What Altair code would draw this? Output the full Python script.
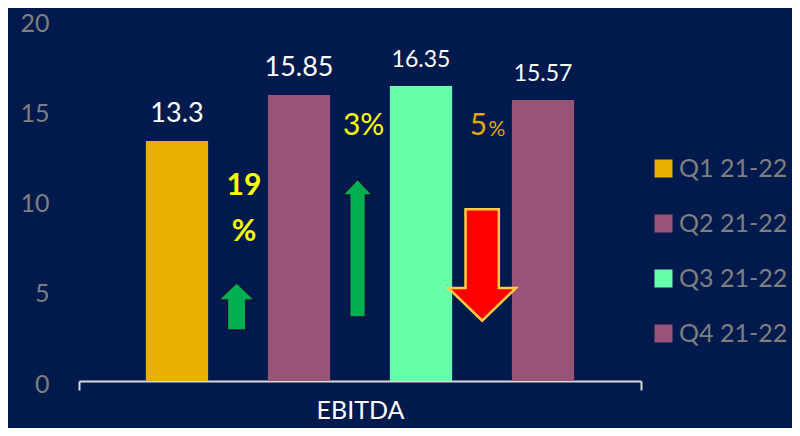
import altair as alt
import pandas as pd

# ---- data ----
metric = ["EBITDA", "EBITDA", "EBITDA", "EBITDA"]
quarters = ["Q1 21-22", "Q2 21-22", "Q3 21-22", "Q4 21-22"]
values = [13.3, 15.85, 16.35, 15.57]

# annotation arrows (x in bar-slot units, y = arrow centre in chart units)
arrow_ids = ["up_small", "up_tall", "down"]
arrow_pos = [0.49, 1.48, 2.50]
arrow_level = [4.13, 7.36, 6.43]

# change annotations
pct_ids = ["p19", "p19pct", "p3", "p5", "p5pct"]
pct_text = ["19", "%", "3%", "5", "%"]
pct_pos = [0.55, 0.55, 1.53, 2.47, 2.62]
pct_level = [10.30, 7.76, 13.63, 13.63, 13.57]

BG = "#001a4d"
bar_colors = ["#e8b000", "#985476", "#66ffaa", "#985476"]
FONT = "Lato"

df = pd.DataFrame({"metric": metric, "quarter": quarters, "value": values})
df_arrows = pd.DataFrame({"id": arrow_ids, "pos": arrow_pos, "level": arrow_level})
df_pct = pd.DataFrame({"id": pct_ids, "text": pct_text, "pos": pct_pos, "level": pct_level})

y_scale = alt.Scale(domain=[0, 20], nice=False)
x_axis = alt.Axis(labelAngle=0, labelFontSize=25, labelColor="#ffffff",
                  labelFont=FONT, labelPadding=8,
                  domainColor="#d9d9d9", domainWidth=2,
                  tickColor="#d9d9d9", tickWidth=2, tickSize=9,
                  tickBand="extent", grid=False)
y_axis = alt.Axis(values=[0, 5, 10, 15, 20], labelFontSize=25,
                  labelColor="#7f7f7f", labelFont=FONT, domain=False,
                  ticks=False, grid=False, labelPadding=30, labelOffset=3)
x_scale = alt.Scale(paddingInner=0, paddingOuter=0)
xo_scale = alt.Scale(paddingInner=0.49, paddingOuter=0.548)


def xe():
    return alt.X("metric:N", title=None, scale=x_scale, axis=x_axis)


def xoe():
    return alt.XOffset("quarter:N", sort=quarters, scale=xo_scale)


def ye(field):
    return alt.Y(field, scale=y_scale, title=None, axis=y_axis)


base = alt.Chart(df)
bars = base.mark_bar(strokeWidth=0).encode(
    x=xe(), xOffset=xoe(), y=ye("value:Q"),
    color=alt.Color("quarter:N", sort=quarters,
                    scale=alt.Scale(domain=quarters, range=bar_colors),
                    legend=alt.Legend(title=None, orient="none", legendX=572, legendY=136,
                                      symbolType="square", symbolSize=324,
                                      symbolStrokeWidth=0, labelFontSize=25,
                                      labelFont=FONT, labelColor="#7f7f7f",
                                      labelOffset=3, rowPadding=29, padding=0)),
)
lab_big = base.mark_text(font=FONT, fontSize=27, color="#ffffff", baseline="alphabetic", dy=-19).encode(
    x=xe(), xOffset=xoe(), y=ye("value:Q"), text=alt.Text("value:Q")
).transform_filter(alt.FieldOneOfPredicate(field="quarter", oneOf=quarters[:2]))
lab_small = base.mark_text(font=FONT, fontSize=23, color="#ffffff", baseline="alphabetic", dy=-19).encode(
    x=xe(), xOffset=xoe(), y=ye("value:Q"), text=alt.Text("value:Q")
).transform_filter(alt.FieldOneOfPredicate(field="quarter", oneOf=quarters[2:]))

main = alt.layer(bars, lab_big, lab_small)

hidden_axis = alt.Axis(labels=False, ticks=False, domain=False, grid=False, title=None)
ax = alt.X("pos:Q", scale=alt.Scale(domain=[-0.8, 3.8], nice=False, zero=False), axis=hidden_axis)
ay = ye("level:Q")


def arrow(aid, path, size, fill, stroke, sw):
    return alt.Chart(df_arrows).mark_point(
        shape=path, size=size, filled=True, fill=fill, opacity=1,
        stroke=stroke, strokeWidth=sw, strokeOpacity=1
    ).encode(x=ax, y=ay).transform_filter(alt.datum.id == aid)


a1 = arrow("up_small", "M0,-1 L0.76,-0.27 L0.39,-0.27 L0.39,1 L-0.39,1 L-0.39,-0.27 L-0.76,-0.27 Z",
           2237, "#00b050", "#0a1438", 1.5)
a2 = arrow("up_tall", "M0,-1 L0.216,-0.773 L0.114,-0.773 L0.114,1 L-0.114,1 L-0.114,-0.773 L-0.216,-0.773 Z",
           18961, "#00b050", "#0a1438", 1.5)
a3 = arrow("down", "M-0.299,-1 L0.299,-1 L0.299,0.413 L0.608,0.413 L0,1 L-0.608,0.413 L-0.299,0.413 Z",
           12410, "#ff0000", "#ffcc44", 2.5)


def pct(pid, size, color, weight):
    return alt.Chart(df_pct).mark_text(
        font=FONT, fontSize=size, color=color, fontWeight=weight, baseline="alphabetic"
    ).encode(x=ax, y=ay, text="text:N").transform_filter(alt.datum.id == pid)


t1 = pct("p19", 30, "#ffff00", "bold")
t2 = pct("p19pct", 30, "#ffff00", "bold")
t3 = pct("p3", 30, "#ffff00", "normal")
t4 = pct("p5", 30, "#e0a800", "normal")
t5 = pct("p5pct", 21, "#e0a800", "normal")

annot = alt.layer(a1, a2, a3, t1, t2, t3, t4, t5)

chart = alt.layer(main, annot).resolve_scale(x="independent").properties(
    width=562, height=361,
    autosize=alt.AutoSizeParams(type="none"),
    padding={"left": 71, "top": 12, "right": 151, "bottom": 47},
    background=BG,
).configure_view(stroke=None)

chart.save("out.html", embed_options={"renderer": "svg", "actions": False})
